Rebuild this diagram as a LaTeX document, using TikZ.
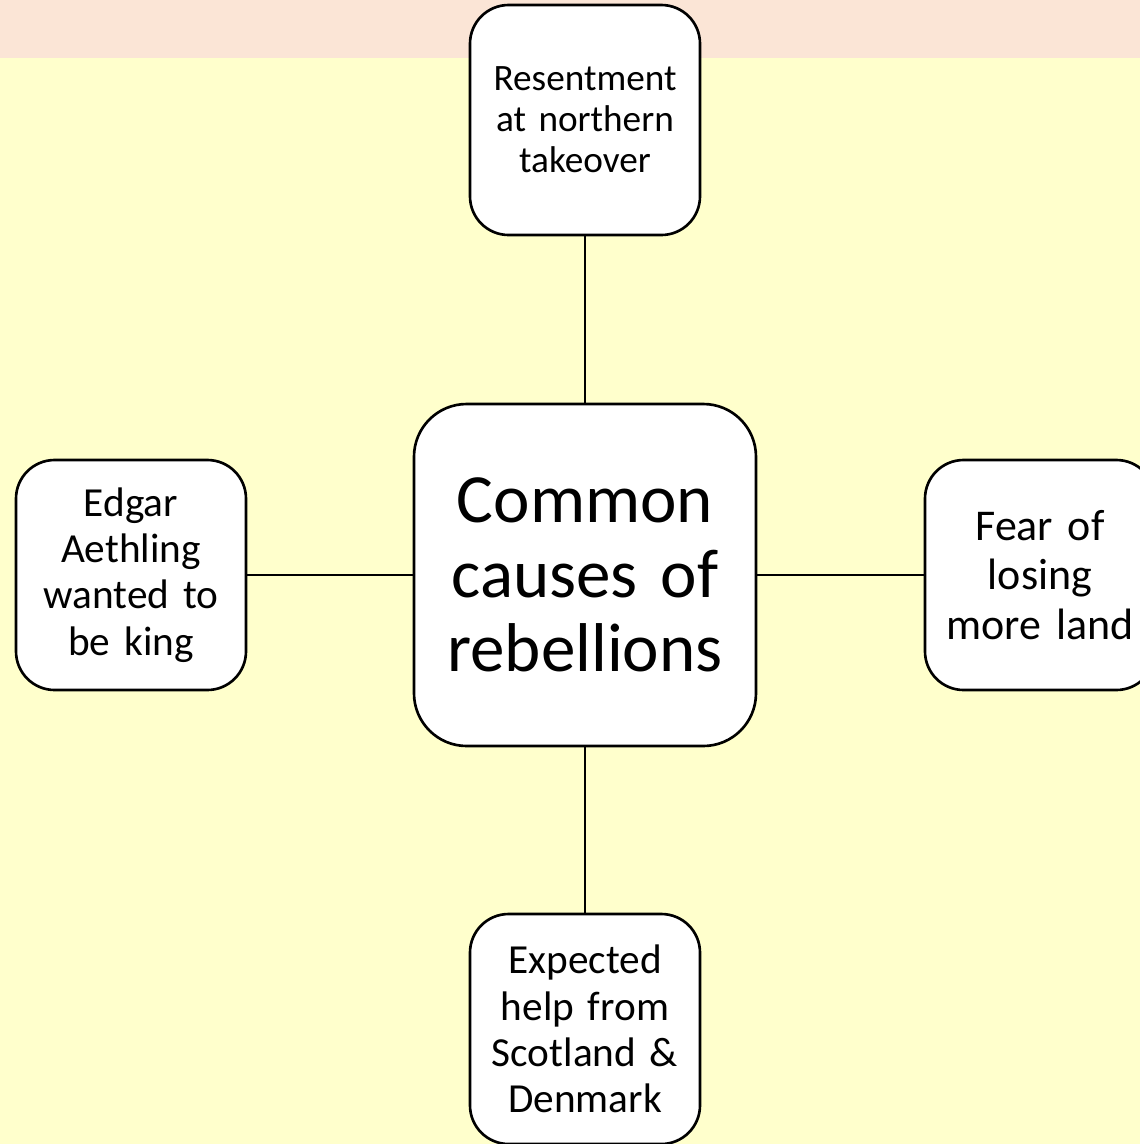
\documentclass[tikz,border=0pt]{standalone}
\usepackage{fontspec}
\setmainfont{Carlito}[WordSpace=0.8]
\definecolor{peach}{HTML}{FBE5D6}
\definecolor{paleyellow}{HTML}{FFFFCC}
\tikzset{
  causebox/.style={draw,line width=1.5pt,fill=white,rounded corners=22pt,
    minimum width=230*0.02cm,minimum height=230*0.02cm,
    text width=226*0.02cm,align=center,inner sep=0pt},
  mainbox/.style={causebox,rounded corners=30pt,
    minimum width=342*0.02cm,minimum height=342*0.02cm,text width=336*0.02cm},
  link/.style={line width=1.2pt}
}
\begin{document}
\begin{tikzpicture}[x=0.02cm,y=-0.02cm]
        \useasboundingbox (0,0) rectangle (1140,1144);
        \fill[peach] (0,0) rectangle (1140,58);
        \fill[paleyellow] (0,58) rectangle (1140,1144);

        %% centre
        \node[mainbox,font=\fontsize{39.3}{42.5}\selectfont] (main) at (585,575)
          {Common\\causes of\\rebellions};

        %% causes
        \node[causebox,font=\fontsize{21.2}{23.3}\selectfont] (north) at (585,120)
          {Resentment\\at northern\\takeover};
        \node[causebox,font=\fontsize{23.5}{26.4}\selectfont] (edgar) at (131,575)
          {Edgar\\Aethling\\wanted to\\be king};
        \node[causebox,font=\fontsize{25}{28.4}\selectfont] (land) at (1040,575)
          {Fear of\\losing\\more land};
        \node[causebox,font=\fontsize{23.5}{26.4}\selectfont] (help) at (585,1029)
          {Expected\\help from\\Scotland \&\\Denmark};

        %% links
        \draw[link] (main) -- (north);
        \draw[link] (main) -- (edgar);
        \draw[link] (main) -- (land);
        \draw[link] (main) -- (help);
\end{tikzpicture}
\end{document}
